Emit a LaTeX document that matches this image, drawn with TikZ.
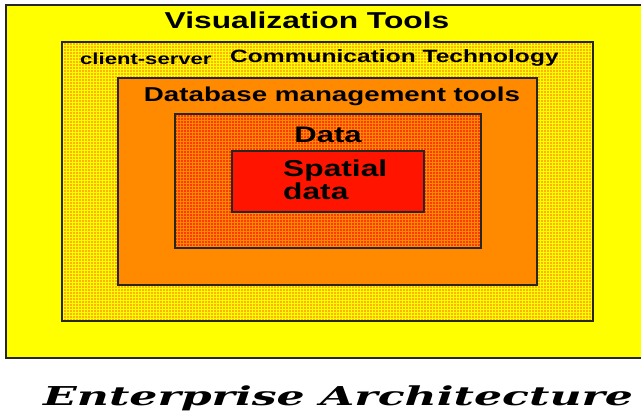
\documentclass[tikz,border=0pt]{standalone}
\usepackage{fontspec}
\setmainfont{Liberation Sans}
\newfontfamily\widesans[FakeStretch=1.38]{Liberation Sans}
\newfontfamily\wideslab[FakeStretch=1.7]{DejaVu Serif}
\usetikzlibrary{patterns}

\definecolor{vizyellow}{HTML}{FFFF00}
\definecolor{comamber}{HTML}{FFB300}
\definecolor{dbmorange}{HTML}{FF8A00}
\definecolor{datared}{HTML}{FF3A00}
\definecolor{spatred}{HTML}{FF1400}

\begin{document}
\begin{tikzpicture}[x=1pt,y=-1pt,line join=miter,
    layer/.style={draw=black!85,line width=1.6pt},
    caption/.style={inner sep=0pt,font=\widesans\bfseries}]
  \clip (0,0) rectangle (641,417);
  \fill[white] (0,0) rectangle (641,417);

  %% Define corners of the nested layers.
  % tl = top left, br = bottom right
  \path \foreach \layer/\tl/\br in {viz/{6,5}/{660,358},com/{62,42}/{593,321},
      dbm/{118,78}/{537,285},dat/{175,114}/{481,248},spa/{232,151}/{424,212}} {
    (\tl) coordinate (\layer tl)
    (\br) coordinate (\layer br)
  };

  % Draw the layers, outside in.
  \fill[vizyellow] (viztl) rectangle (vizbr);
  \draw[layer] (viztl) rectangle (vizbr);
  \fill[comamber] (comtl) rectangle (combr);
  \fill[pattern=grid,pattern color=vizyellow] (comtl) rectangle (combr);
  \draw[layer] (comtl) rectangle (combr);
  \fill[dbmorange] (dbmtl) rectangle (dbmbr);
  \draw[layer] (dbmtl) rectangle (dbmbr);
  \fill[datared] (dattl) rectangle (datbr);
  \fill[pattern=grid,pattern color=dbmorange] (dattl) rectangle (datbr);
  \draw[layer] (dattl) rectangle (datbr);
  \fill[spatred] (spatl) rectangle (spabr);
  \draw[layer] (spatl) rectangle (spabr);

  % Layer captions.
  \node[caption,anchor=base,font=\widesans\bfseries\fontsize{23}{27}\selectfont] (viz) at (307,29) {Visualization Tools};
  \node[caption,anchor=base west,font=\widesans\bfseries\fontsize{16}{18}\selectfont] (cs) at (80,65) {client-server};
  \node[caption,anchor=base west,font=\widesans\bfseries\fontsize{17.8}{21}\selectfont] (com) at (230,63) {Communication Technology};
  \node[caption,anchor=base,font=\widesans\bfseries\fontsize{20.1}{23}\selectfont] (dbm) at (332,102) {Database management tools};
  \node[caption,anchor=base,font=\widesans\bfseries\fontsize{22.5}{26}\selectfont] (dat) at (328,143) {Data};
  \node[caption,anchor=base west,align=left,font=\widesans\bfseries\fontsize{23}{23}\selectfont] (spa) at (283,200) {Spatial\\data};

  % Title below.
  \node[caption,anchor=base west,font=\wideslab\bfseries\itshape\fontsize{26}{30}\selectfont] (title) at (43,406) {Enterprise Architecture};
\end{tikzpicture}
\end{document}
